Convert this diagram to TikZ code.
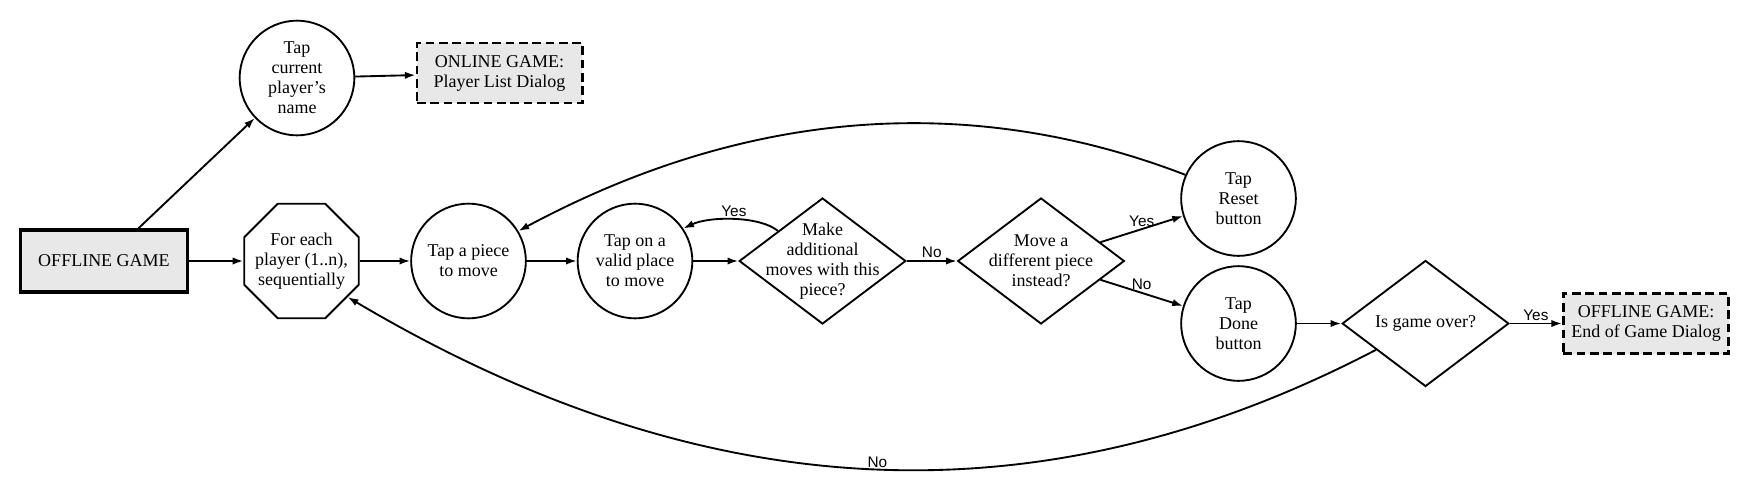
\documentclass[tikz,border=0pt]{standalone}
\usepackage{fontspec}
\setmainfont{Liberation Serif}
\newfontfamily\labelfont{Liberation Sans}
\usetikzlibrary{shapes.geometric,arrows.meta}
\definecolor{boxgray}{RGB}{232,232,232}
\tikzset{
  every node/.style={font=\fontsize{13.5}{15}\selectfont},
  shp/.style={draw, line width=1.4pt, inner sep=0pt},
  circ/.style={shp, circle, minimum size=86pt},
  octo/.style={shp, regular polygon, regular polygon sides=8, minimum size=93pt},
  dia/.style={shp, diamond, minimum width=125pt, minimum height=94.5pt},
  startbox/.style={shp, rectangle, fill=boxgray, line width=2.6pt, minimum width=125pt, minimum height=46.5pt},
  endbox/.style={shp, rectangle, fill=boxgray, line width=2pt, dash pattern=on 6.5pt off 3.5pt, minimum width=124pt, minimum height=45pt},
  txt/.style={align=center, inner sep=0pt},
  arr/.style={line width=1.4pt, -{Latex[length=8pt,width=5.5pt]}},
  lbl/.style={font=\labelfont\fontsize{11.5}{13}\selectfont, inner sep=1.5pt},
}
\begin{document}
\begin{tikzpicture}[x=0.75pt,y=-0.75pt]
\useasboundingbox (0,0) rectangle (1742,500);
\node[startbox, label={[txt]center:OFFLINE GAME}] (offline) at (104,261) {};
\node[circ, label={[txt]center:{Tap\\current\\player's\\name}}] (tapname) at (297,78) {};
\node[endbox, label={[txt]center:{ONLINE GAME:\\Player List Dialog}}] (online) at (499.5,73) {};
\node[octo, label={[txt]center:{For each\\player (1..n),\\sequentially}}] (foreach) at (301.5,261) {};
\node[circ, label={[txt]center:{Tap a piece\\to move}}] (piece) at (468.5,261) {};
\node[circ, label={[txt]center:{Tap on a\\valid place\\to move}}] (valid) at (635,261) {};
\node[dia, label={[txt]center:{Make\\additional\\moves with this\\piece?}}] (d1) at (822.5,261) {};
\node[dia, label={[txt]center:{Move a\\different piece\\instead?}}] (d2) at (1041,261) {};
\node[circ, label={[txt]center:{Tap\\Reset\\button}}] (reset) at (1238.5,198.5) {};
\node[circ, label={[txt]center:{Tap\\Done\\button}}] (done) at (1238.5,323.5) {};
\node[dia, label={[txt]center:{Is game over?}}] (d3) at (1425.5,323.5) {};
\node[endbox, label={[txt]center:{OFFLINE GAME:\\End of Game Dialog}}] (endg) at (1646,323.5) {};

\draw[arr] (offline) -- (tapname);
\draw[arr] (tapname) -- (online);
\draw[arr] (offline) -- (foreach);
\draw[arr] (foreach) -- (piece);
\draw[arr] (piece) -- (valid);
\draw[arr] (valid) -- (d1);
\draw[arr] (d1) -- node[lbl, above] {No} (d2);
\draw[arr] (d2) -- node[lbl, above] {Yes} (reset);
\draw[arr] (d2) -- node[lbl, above] {No} (done);
\draw[arr] (done) -- (d3);
\draw[arr] (d3) -- node[lbl, above] {Yes} (endg);
\draw[arr] (d1.146) .. controls (760,216) and (710,216) .. node[lbl, above] {Yes} (valid.34);
\draw[arr] (reset.156) .. controls (1030,115) and (800,80) .. (piece.31);
\draw[arr] (d3.208) .. controls (1050,520) and (715,515) .. node[lbl, above, inner sep=0.5pt] {No} (foreach.322);
\end{tikzpicture}
\end{document}
